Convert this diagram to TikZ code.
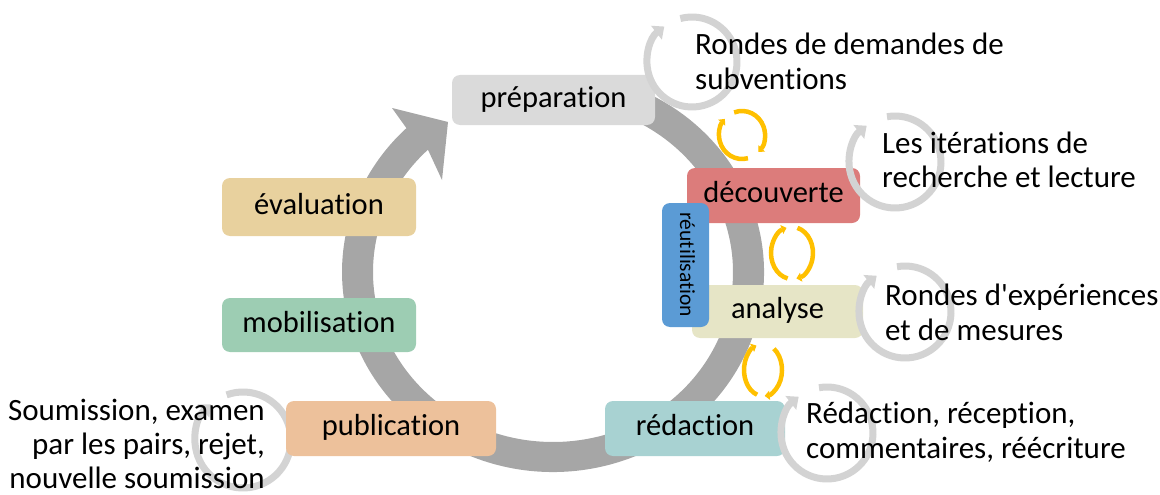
\documentclass[tikz,border=0pt]{standalone}
\usepackage{fontspec}
\setmainfont{Carlito}[Ligatures={NoCommon}]
\usetikzlibrary{arrows.meta,calc}
\definecolor{ringgray}{HTML}{A6A6A6}
\definecolor{circgray}{HTML}{D3D3D3}
\definecolor{yel}{HTML}{FFC000}
\definecolor{cprep}{HTML}{DADADA}
\definecolor{ceval}{HTML}{E8D19E}
\definecolor{cmob}{HTML}{9DCDB3}
\definecolor{cpub}{HTML}{EDC19B}
\definecolor{credac}{HTML}{A8D2D2}
\definecolor{canal}{HTML}{E6E5C6}
\definecolor{cdecou}{HTML}{DC7C7B}
\definecolor{creut}{HTML}{5B9BD5}
\tikzset{
  stagebox/.style={rounded corners=8pt, inner sep=0pt, font=\fontsize{30.5}{36}\selectfont, text height=20pt, text depth=6pt},
  note/.style={inner sep=0pt, font=\fontsize{31}{35}\selectfont},
  garc/.style={draw=circgray, line width=7pt, -{Triangle[length=10pt,width=17pt]}},
  yarc/.style={draw=yel, line width=4.5pt, -{Triangle[length=5pt,width=9pt]}},
}
\begin{document}
\begin{tikzpicture}[x=1pt,y=-1pt]
\useasboundingbox (0,0) rectangle (1160,495);
% main ring arrow
\fill[ringgray] (553,272) ++(-65:211 and 200) arc[start angle=-65,end angle=226,x radius=211,y radius=200]
  -- (392,108) -- (448,122) -- (442,180)
  -- ($(553,272)+(226:180 and 170)$) arc[start angle=226,end angle=-65,x radius=180,y radius=170] -- cycle;
% circle behind publication
\draw[garc] (243,440) ++(-110:48) arc[start angle=-110,end angle=228,radius=48];
% stage boxes
\node[stagebox, fill=cprep, minimum width=203pt, minimum height=50pt] (prep) at (553.5,100) {préparation};
\node[stagebox, fill=ceval, minimum width=194pt, minimum height=58pt] (eval) at (319,207) {évaluation};
\node[stagebox, fill=cmob, minimum width=194pt, minimum height=54pt] (mob) at (319,325) {mobilisation};
\node[stagebox, fill=cpub, minimum width=210pt, minimum height=55pt] (pub) at (391,428.5) {publication};
\node[stagebox, fill=credac, minimum width=180pt, minimum height=55pt] (redac) at (695,428.5) {rédaction};
\node[stagebox, fill=canal, minimum width=171pt, minimum height=53pt] (anal) at (777.5,311.5) {analyse};
\node[stagebox, fill=cdecou, minimum width=173pt, minimum height=55pt] (decou) at (773.5,195.5) {découverte};
\node[stagebox, fill=creut, rotate=-90, minimum width=124pt, minimum height=47pt, font=\fontsize{21.5}{25}\selectfont, text height=15pt, text depth=4pt] (reut) at (685.5,265) {réutilisation};
% iteration circles
\draw[garc] (692,62) ++(-105:45) arc[start angle=-105,end angle=232,radius=45];
\draw[garc] (895,162) ++(-100:46) arc[start angle=-100,end angle=232,radius=46];
\draw[garc] (905,312) ++(-100:46) arc[start angle=-100,end angle=232,radius=46];
\draw[garc] (827,433) ++(-100:46) arc[start angle=-100,end angle=232,radius=46];
% yellow cycles
\draw[yarc] (742,135) ++(-110:23 and 24) arc[start angle=-110,end angle=45,x radius=23,y radius=24];
\draw[yarc] (742,135) ++(75:23 and 24) arc[start angle=75,end angle=222,x radius=23,y radius=24];
\draw[yarc] (792,253) ++(-75:21 and 26) arc[start angle=-75,end angle=78,x radius=21,y radius=26];
\draw[yarc] (792,253) ++(102:21 and 26) arc[start angle=102,end angle=255,x radius=21,y radius=26];
\draw[yarc] (763,370) ++(-55:19 and 26) arc[start angle=-55,end angle=85,x radius=19,y radius=26];
\draw[yarc] (763,370) ++(108:19 and 26) arc[start angle=108,end angle=250,x radius=19,y radius=26];
% notes
\node[note, anchor=base west] (n1) at (695,55) {\begin{tabular}[t]{@{}l@{}}Rondes de demandes de\\subventions\end{tabular}};
\node[note, anchor=base west] (n2) at (882,153) {\begin{tabular}[t]{@{}l@{}}Les itérations de\\recherche et lecture\end{tabular}};
\node[note, anchor=base west] (n3) at (885,305) {\begin{tabular}[t]{@{}l@{}}Rondes d\textquotesingle expériences\\et de mesures\end{tabular}};
\node[note, anchor=base west] (n4) at (806,423) {\begin{tabular}[t]{@{}l@{}}Rédaction, réception,\\commentaires, réécriture\end{tabular}};
\node[note, anchor=base east, font=\fontsize{31}{34}\selectfont] (n5) at (265,420) {\begin{tabular}[t]{@{}r@{}}Soumission, examen\\par les pairs, rejet,\\nouvelle soumission\end{tabular}};
\end{tikzpicture}
\end{document}
